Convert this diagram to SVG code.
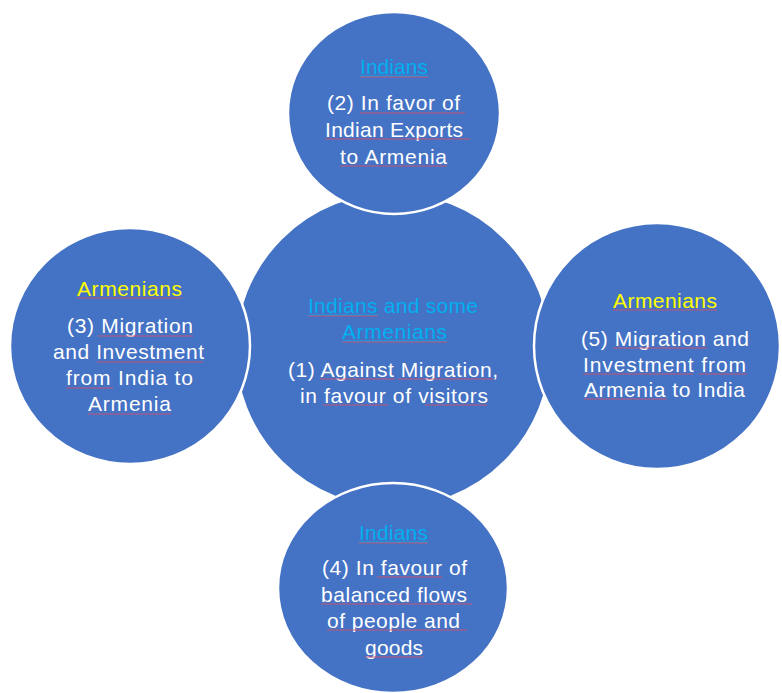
<svg xmlns="http://www.w3.org/2000/svg" width="782" height="693" viewBox="0 0 782 693">
  <style>
    .bubble { fill: #4472C4; stroke: #FFFFFF; stroke-width: 2.5; }
    text { font-family: "Liberation Sans", Arial, sans-serif; font-size: 21px; text-anchor: middle; }
    .body { fill: #FFFFFF; }
    .ind { fill: #00B0F0; }
    .arm { fill: #FFFF00; }
    .link { stroke: #00B0F0; stroke-width: 1.2; }
    .spell { stroke: #D9506A; stroke-width: 1; opacity: 0.85; }
  </style>
  <rect width="782" height="693" fill="#FFFFFF"/>

  <!-- (1) centre -->
  <g id="node-center">
    <circle class="bubble" cx="393" cy="350" r="158"/>
    <text x="393" y="313" class="ind" textLength="170">Indians and some</text>
    <text x="394.5" y="339" class="ind" textLength="105">Armenians</text>
    <text x="393" y="377" class="body" textLength="210">(1) Against Migration,</text>
    <text x="394" y="403" class="body" textLength="188">in favour of visitors</text>
    <line class="link" x1="308" y1="315" x2="378" y2="315"/>
    <line class="link" x1="342" y1="341" x2="447" y2="341"/>
    <line class="spell" x1="308" y1="316" x2="378" y2="316"/>
    <line class="spell" x1="342" y1="342" x2="447" y2="342"/>
    <line class="spell" x1="320" y1="379" x2="395" y2="379"/>
    <line class="spell" x1="398" y1="379" x2="494" y2="379"/>
    <line class="spell" x1="323" y1="405" x2="388" y2="405"/>
    <line class="spell" x1="425" y1="405" x2="487" y2="405"/>
  </g>

  <!-- (3) left -->
  <g id="node-left">
    <ellipse class="bubble" cx="130" cy="346" rx="120" ry="118"/>
    <text x="129.5" y="296" class="arm" textLength="105">Armenians</text>
    <text x="130" y="333" class="body" textLength="126">(3) Migration</text>
    <text x="128.5" y="359" class="body" textLength="151">and Investment</text>
    <text x="129.5" y="385" class="body" textLength="127">from India to</text>
    <text x="129.5" y="411" class="body" textLength="83">Armenia</text>
    <line class="spell" x1="77" y1="298" x2="182" y2="298"/>
    <line class="spell" x1="98" y1="336" x2="193" y2="336"/>
    <line class="spell" x1="97" y1="362" x2="203" y2="362"/>
    <line class="spell" x1="66" y1="388" x2="113" y2="388"/>
    <line class="spell" x1="88" y1="414" x2="171" y2="414"/>
  </g>

  <!-- (2) top -->
  <g id="node-top">
    <ellipse class="bubble" cx="394" cy="113" rx="106" ry="101"/>
    <text x="394" y="74" class="ind" textLength="68">Indians</text>
    <text x="393.5" y="110" class="body" textLength="133">(2) In favor of</text>
    <text x="394" y="137" class="body" textLength="138">Indian Exports</text>
    <text x="393.5" y="164" class="body" textLength="107">to Armenia</text>
    <line class="link" x1="360" y1="76" x2="428" y2="76"/>
    <line class="spell" x1="360" y1="77" x2="428" y2="77"/>
    <line class="spell" x1="360" y1="113" x2="465" y2="113"/>
    <line class="spell" x1="325" y1="139" x2="470" y2="139"/>
    <line class="spell" x1="340" y1="166" x2="447" y2="166"/>
  </g>

  <!-- (5) right -->
  <g id="node-right">
    <ellipse class="bubble" cx="657" cy="346" rx="123" ry="123"/>
    <text x="665" y="308" class="arm" textLength="104">Armenians</text>
    <text x="665" y="346" class="body" textLength="168">(5) Migration and</text>
    <text x="664.5" y="372" class="body" textLength="163">Investment from</text>
    <text x="664.5" y="397" class="body" textLength="161">Armenia to India</text>
    <line class="spell" x1="613" y1="310" x2="717" y2="310"/>
    <line class="spell" x1="613" y1="348" x2="707" y2="348"/>
    <line class="spell" x1="583" y1="374" x2="693" y2="374"/>
    <line class="spell" x1="699" y1="374" x2="747" y2="374"/>
    <line class="spell" x1="584" y1="399" x2="667" y2="399"/>
  </g>

  <!-- (4) bottom -->
  <g id="node-bottom">
    <ellipse class="bubble" cx="393" cy="588" rx="115" ry="105"/>
    <text x="393.5" y="540" class="ind" textLength="69">Indians</text>
    <text x="394.5" y="575" class="body" textLength="145">(4) In favour of</text>
    <text x="394" y="602" class="body" textLength="146">balanced flows</text>
    <text x="393.5" y="628" class="body" textLength="133">of people and</text>
    <text x="394" y="655" class="body" textLength="58">goods</text>
    <line class="link" x1="359" y1="542" x2="428" y2="542"/>
    <line class="spell" x1="359" y1="543" x2="428" y2="543"/>
    <line class="spell" x1="377" y1="577" x2="442" y2="577"/>
    <line class="spell" x1="321" y1="604" x2="472" y2="604"/>
    <line class="spell" x1="327" y1="630" x2="467" y2="630"/>
    <line class="spell" x1="365" y1="657" x2="423" y2="657"/>
  </g>
</svg>
